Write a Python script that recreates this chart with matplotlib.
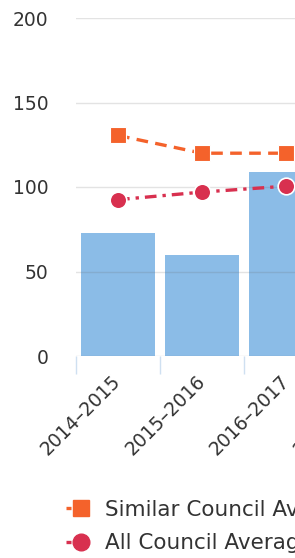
import matplotlib
matplotlib.use("Agg")
import matplotlib.pyplot as plt
from matplotlib.lines import Line2D
from matplotlib.legend_handler import HandlerLine2D
import numpy as np

categories = ["2014–2015", "2015–2016", "2016–2017"]
extra_tick_labels = ["2017–2018"]
council_values = [73, 60, 109]
similar_avg = [130.5, 120, 120]
all_avg = [92.5, 97, 100.5]
yticks = [0, 50, 100, 150, 200]

bar_color = "#8bbce7"
orange = "#f4622b"
red = "#d8304f"
text_color = "#333333"

plt.rcParams['font.family'] = ['DejaVu Sans']

W, H = 295, 558
fig = plt.figure(figsize=(W / 100, H / 100), dpi=100)
fig.patch.set_facecolor("white")

px = 84.0
left = 76 / W
bottom = 1 - 356 / H
height = (356 - 18) / H
ncat = len(categories) + len(extra_tick_labels)
ax = fig.add_axes([left, bottom, ncat * px / W, height])

x = np.arange(len(categories))
ax.bar(x, council_values, width=0.88, color=bar_color, zorder=1)
ax.plot(x, similar_avg, color=orange, linestyle=(0, (3.5, 2.2)), linewidth=2.4,
        marker="s", markersize=11.5, markerfacecolor=orange, markeredgecolor="white",
        markeredgewidth=0.8, zorder=4, clip_on=False)
ax.plot(x, all_avg, color=red, linestyle=(0, (3.5, 1.8, 1, 1.8)), linewidth=2.4,
        marker="o", markersize=12, markerfacecolor=red, markeredgecolor="white",
        markeredgewidth=1.2, zorder=4, clip_on=False)

ax.set_xlim(-0.5, ncat - 0.5)
ax.set_ylim(0, 200)
ax.set_yticks(yticks)
ax.set_yticklabels([str(v) for v in yticks])
ax.set_xticks(np.arange(ncat))
ax.set_xticklabels(categories + extra_tick_labels, rotation=45, ha="right", va="center",
                   rotation_mode="anchor", fontsize=13.5, color=text_color)
ax.set_xticks(np.arange(ncat + 1) - 0.5, minor=True)
ax.tick_params(axis="x", which="major", length=0, pad=16)
ax.tick_params(axis="x", which="minor", length=13, width=1, color="#cfe0f1")
ax.tick_params(axis="y", length=0, pad=20, labelsize=13.5, labelcolor=text_color)

ax.set_axisbelow(False)
ax.grid(axis="y", color="#666666", alpha=0.18, linewidth=1, zorder=2.5)
ax.grid(axis="x", visible=False)
for s in ax.spines.values():
    s.set_visible(False)


class LeftLineHandler(HandlerLine2D):
    def create_artists(self, legend, orig_handle, xdescent, ydescent, width, height,
                       fontsize, trans):
        artists = super().create_artists(legend, orig_handle, xdescent, ydescent,
                                         width, height, fontsize, trans)
        line = artists[0]
        xd = np.asarray(line.get_xdata(), dtype=float)
        x0, x1 = xd[0], xd[-1]
        line.set_xdata([x0, x1, x1])
        return artists


handles = [
    Line2D([0], [0], color=orange, linestyle=(0, (1.5, 1.2)), linewidth=2.4, marker="s",
           markersize=11, markerfacecolor=orange, markeredgecolor=orange),
    Line2D([0], [0], color=red, linestyle=(0, (1.5, 1.2)), linewidth=2.4, marker="o",
           markersize=12, markerfacecolor=red, markeredgecolor=red),
]
fig.legend(handles, ["Similar Council Average", "All Council Average"],
           loc="upper left", bbox_to_anchor=(66 / W, 1 - 500 / H),
           frameon=False, fontsize=15.5, labelcolor=text_color,
           handlelength=0.68, handletextpad=1.15, labelspacing=0.62,
           borderaxespad=0, borderpad=0,
           handler_map={Line2D: LeftLineHandler(numpoints=1)})

fig.savefig("out.png", dpi=100)
